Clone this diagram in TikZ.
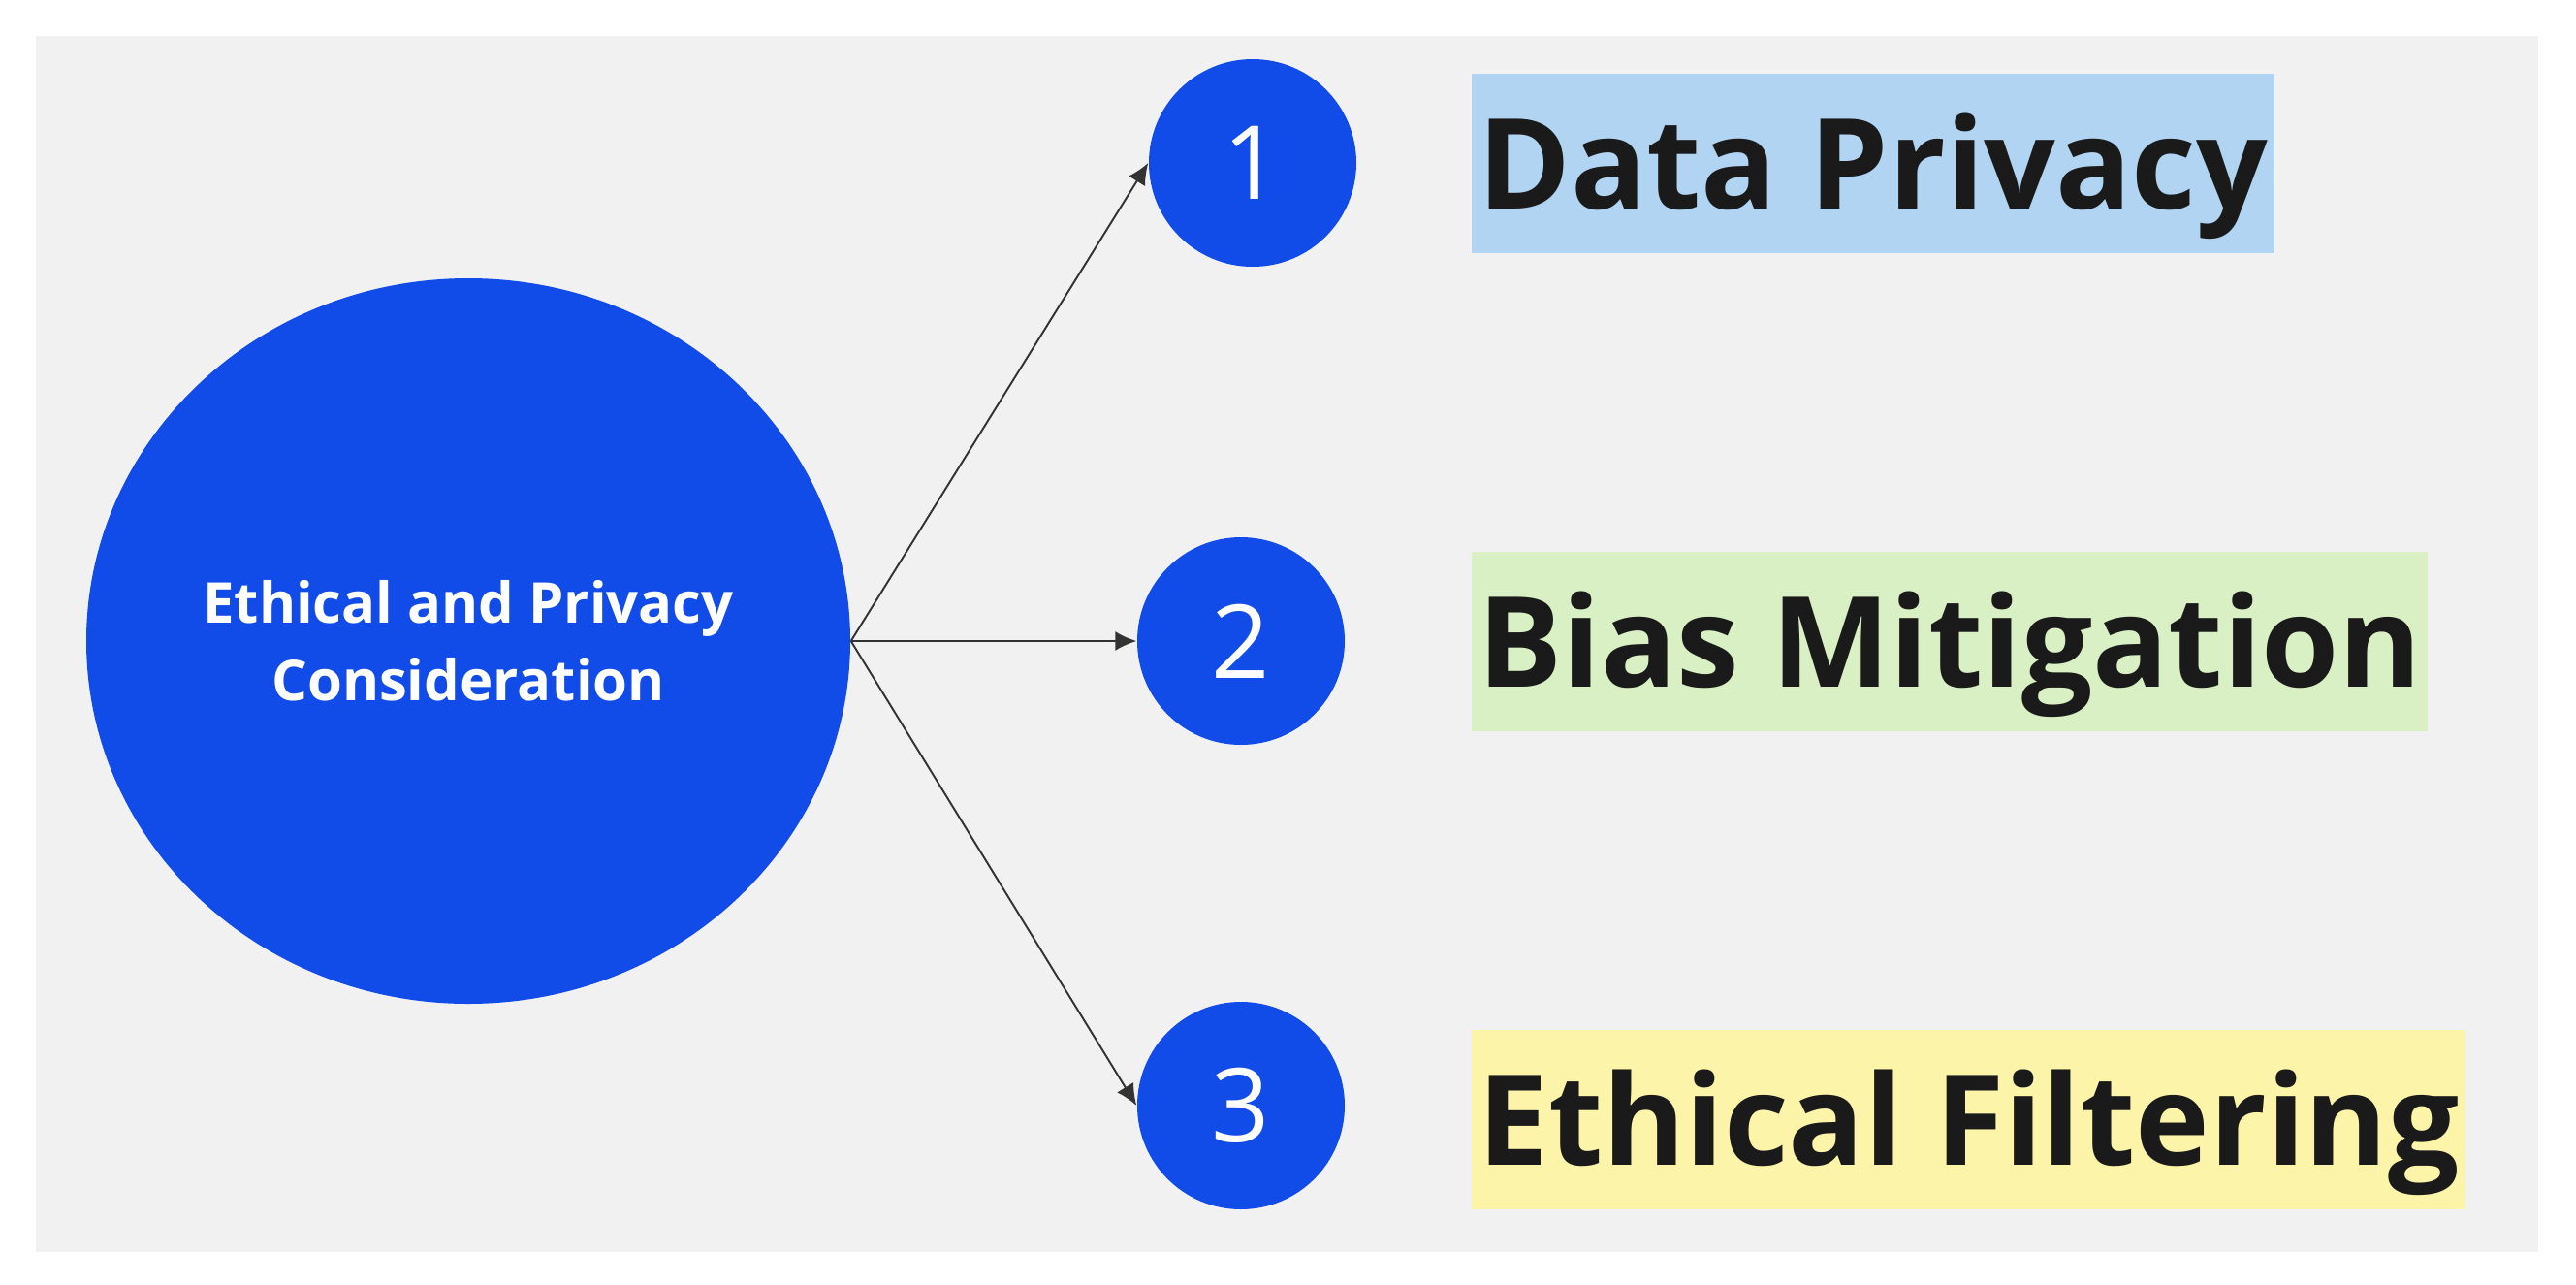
\documentclass[tikz,border=0pt]{standalone}
\usepackage{fontspec}
\setmainfont{Open Sans}
\usetikzlibrary{arrows.meta,positioning,shapes.geometric}
\definecolor{canvasgray}{HTML}{F1F1F1}
\definecolor{topicblue}{HTML}{114BE8}
\definecolor{linkgray}{HTML}{333333}
\definecolor{privacyblue}{HTML}{B0D4F1}
\definecolor{biasgreen}{HTML}{D8F0C3}
\definecolor{filteryellow}{HTML}{FCF5A9}
\definecolor{labelblack}{HTML}{1A1A1A}
\tikzset{
    hubcircle/.style={ellipse,fill=topicblue,text=white,align=center,minimum width=7.88cm,minimum height=7.48cm,inner sep=0pt,font=\fontsize{16.5}{22.8}\selectfont\bfseries},
    numcircle/.style={circle,fill=topicblue,text=white,minimum size=2.14cm,inner sep=0pt,font=\fontsize{30}{36}\selectfont},
    topicbox/.style={rectangle,text=labelblack,minimum height=1.85cm,inner xsep=0.06cm,inner ysep=0pt,text height=0.94cm,text depth=0pt,font=\fontsize{36.9}{44}\selectfont\bfseries},
    hubline/.style={-{Latex[length=2.2mm,width=2mm]},draw=linkgray,line width=0.55pt}
}
\begin{document}
\begin{tikzpicture}
    \useasboundingbox (0,0) rectangle (26.57,-13.24);
    \fill[canvasgray] (0.37,-0.37) rectangle (26.18,-12.91);
    % centre topic and its three points
    \node[hubcircle] (hub) at (4.83,-6.61) {Ethical and Privacy\\Consideration};
    \node[numcircle] (num1) at (12.92,-1.68) {1};
    \node[numcircle] (num2) at (12.80,-6.61) {2};
    \node[numcircle] (num3) at (12.80,-11.40) {3};
    \node[topicbox,fill=privacyblue,right=1.18cm of num1] (privacy) {Data Privacy};
    \node[topicbox,fill=biasgreen,right=1.30cm of num2] (bias) {Bias Mitigation};
    \node[topicbox,fill=filteryellow,right=1.30cm of num3,yshift=-0.14cm] (filter) {Ethical Filtering};
    \draw[hubline] (hub.east) -- (num1.west);
    \draw[hubline] (hub.east) -- (num2.west);
    \draw[hubline] (hub.east) -- (num3.west);
\end{tikzpicture}
\end{document}
